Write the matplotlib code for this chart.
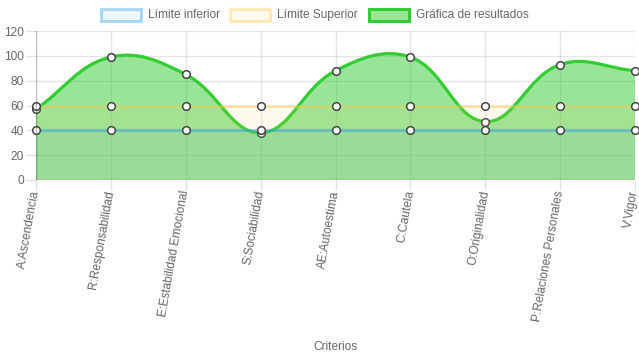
import numpy as np
import matplotlib
matplotlib.use("Agg")
import matplotlib.pyplot as plt
from matplotlib.path import Path
from matplotlib.patches import PathPatch, Rectangle

plt.rcParams['font.family'] = ['Liberation Sans', 'DejaVu Sans']

categories = ["A:Ascendencia", "R:Responsabilidad", "E:Estabilidad Emocional",
              "S:Sociabilidad", "AE:Autoestima", "C:Cautela", "O:Originalidad",
              "P:Relaciones Personales", "V:Vigor"]
limite_inferior = [40, 40, 40, 40, 40, 40, 40, 40, 40]
limite_superior = [60, 60, 60, 60, 60, 60, 60, 60, 60]
resultados = [57, 99, 85, 38, 88, 99, 47, 93, 88]
y_ticks = [0, 20, 40, 60, 80, 100, 120]
legend_labels = ["Límite inferior", "Límite Superior", "Gráfica de resultados"]
x_title = "Criterios"

W, H = 639, 360
fig = plt.figure(figsize=(W / 100, H / 100), dpi=100)
L, R, T, B = 36, 635, 31, 180
ax = fig.add_axes([L / W, 1 - B / H, (R - L) / W, (B - T) / H])
n = len(categories)
ax.set_xlim(0, n - 1)
ax.set_ylim(0, 120)

sx = (R - L) / (n - 1)
sy = (B - T) / 120.0


def spline_path(vals, tension=0.4):
    xs = np.arange(len(vals), dtype=float)
    ys = np.array(vals, dtype=float)
    px, py = xs * sx, ys * sy
    cps = []
    for i in range(len(vals)):
        i0 = max(i - 1, 0)
        i2 = min(i + 1, len(vals) - 1)
        d01 = np.hypot(px[i] - px[i0], py[i] - py[i0])
        d12 = np.hypot(px[i2] - px[i], py[i2] - py[i])
        tot = d01 + d12
        s01 = d01 / tot if tot else 0
        s12 = d12 / tot if tot else 0
        fa, fb = tension * s01, tension * s12
        dx, dy = px[i2] - px[i0], py[i2] - py[i0]
        prev = (px[i] - fa * dx, py[i] - fa * dy)
        nxt = (px[i] + fb * dx, py[i] + fb * dy)
        cps.append((prev, nxt))
    verts = [(xs[0], ys[0])]
    codes = [Path.MOVETO]
    for i in range(1, len(vals)):
        c1 = cps[i - 1][1]
        c2 = cps[i][0]
        verts += [(c1[0] / sx, c1[1] / sy), (c2[0] / sx, c2[1] / sy), (xs[i], ys[i])]
        codes += [Path.CURVE4] * 3
    return verts, codes


grid_c = (0, 0, 0, 0.1)
for yt in y_ticks[1:]:
    ax.axhline(yt, color=grid_c, lw=1, zorder=0)
for i in range(1, n):
    ax.axvline(i, color=grid_c, lw=1, zorder=0)

green_line = (0.2, 0.8, 0.2)
green_fill = (50 / 255, 205 / 255, 50 / 255, 0.5)
yellow_line = (255 / 255, 206 / 255, 86 / 255, 0.4)
yellow_fill = (255 / 255, 206 / 255, 86 / 255, 0.1)
blue_line = (54 / 255, 162 / 255, 235 / 255, 0.45)
blue_fill = (54 / 255, 162 / 255, 235 / 255, 0.08)

x = np.arange(n)
# green dataset
verts, codes = spline_path(resultados)
fverts = verts + [(n - 1, 0), (0, 0), verts[0]]
fcodes = codes + [Path.LINETO, Path.LINETO, Path.CLOSEPOLY]
ax.add_patch(PathPatch(Path(fverts, fcodes), facecolor=green_fill, edgecolor='none', zorder=1))
ax.add_patch(PathPatch(Path(verts, codes), facecolor='none', edgecolor=green_line, lw=2.3, zorder=2,
                       capstyle='round', joinstyle='round'))
mk = dict(marker='o', ms=5.5, mfc='white', mec='#444444', mew=1.1, ls='none')
ax.plot(x, resultados, zorder=3, clip_on=False, **mk)

# yellow
ax.fill_between(x, 0, limite_superior, color=yellow_fill, lw=0, zorder=4)
ax.plot(x, limite_superior, color=yellow_line, lw=2.3, zorder=5)
ax.plot(x, limite_superior, zorder=6, clip_on=False, **mk)

# blue
ax.fill_between(x, 0, limite_inferior, color=blue_fill, lw=0, zorder=7)
ax.plot(x, limite_inferior, color=blue_line, lw=2.3, zorder=8)
ax.plot(x, limite_inferior, zorder=9, clip_on=False, **mk)

for s in ax.spines.values():
    s.set_visible(False)
ax.axhline(0, color=(0, 0, 0, 0.25), lw=1, zorder=10)
ax.axvline(0, color=(0, 0, 0, 0.25), lw=1, zorder=10)

ax.set_yticks(y_ticks)
ax.set_yticklabels([str(v) for v in y_ticks])
ax.set_xticks(x)
ax.set_xticklabels(categories, rotation=80, ha='right', va='center', rotation_mode='anchor')
ax.tick_params(axis='both', colors=(0, 0, 0, 0.12), labelcolor='#666666', labelsize=8.6, length=7.2, width=1)
ax.tick_params(axis='x', pad=0.5)
ax.tick_params(axis='y', pad=1.5)
fig.text(335 / W, 1 - 347 / H, x_title, color='#666666', fontsize=8.6, ha='center', va='center')

# legend
items = [
    (legend_labels[0], blue_fill, (54 / 255, 162 / 255, 235 / 255, 0.4), 101),
    (legend_labels[1], yellow_fill, yellow_line, 230),
    (legend_labels[2], green_fill, green_line, 369),
]
for label, fc, ec, x0 in items:
    r = Rectangle((x0 / W, 1 - 21 / H), 40 / W, 12 / H, transform=fig.transFigure,
                  facecolor=fc, edgecolor=ec, lw=2.2)
    fig.add_artist(r)
    fig.text((x0 + 47) / W, 1 - 15 / H, label, color='#666666', fontsize=8.6, ha='left', va='center')

fig.savefig("out.png", dpi=100)
